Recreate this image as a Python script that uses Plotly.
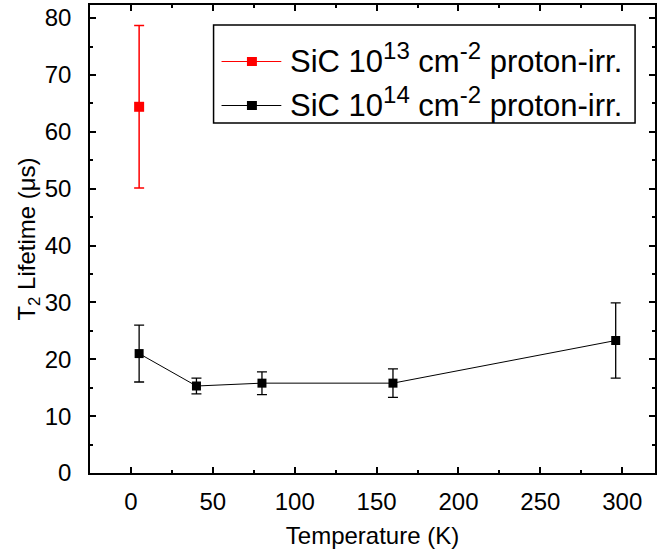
import plotly.graph_objects as go

# Data
temp_13 = [5]
t2_13 = [64.4]
err_13 = [14.3]

temp_14 = [5, 40, 80, 160, 296]
t2_14 = [21.0, 15.3, 15.8, 15.8, 23.3]
err_14 = [5.0, 1.4, 2.0, 2.5, 6.6]

x_ticks = [0, 50, 100, 150, 200, 250, 300]
y_ticks = [0, 10, 20, 30, 40, 50, 60, 70, 80]

series_names = [
    "SiC 10<sup><span style='font-size:24px'>13</span></sup> cm<sup><span style='font-size:24px'>-2</span></sup> proton-irr.",
    "SiC 10<sup><span style='font-size:24px'>14</span></sup> cm<sup><span style='font-size:24px'>-2</span></sup> proton-irr.",
]
series_colors = ["#ff0000", "#000000"]

FONT = "Liberation Sans, Arial, sans-serif"

W, H = 658, 554
ML, MR, MT, MB = 90, 1, 5, 81
PW, PH = W - ML - MR, H - MT - MB


def px(xp):
    return (xp - ML) / PW


def py(yp):
    return (H - MB - yp) / PH


fig = go.Figure()
fig.add_trace(go.Scatter(
    x=temp_13, y=t2_13, mode="lines+markers",
    name=series_names[0], showlegend=False,
    line=dict(color=series_colors[0], width=1),
    marker=dict(symbol="square", size=10, color=series_colors[0]),
    error_y=dict(type="data", array=err_13, visible=True, color=series_colors[0],
                 thickness=1.5, width=5),
))
fig.add_trace(go.Scatter(
    x=temp_14, y=t2_14, mode="lines+markers",
    name=series_names[1], showlegend=False,
    line=dict(color=series_colors[1], width=1),
    marker=dict(symbol="square", size=9, color=series_colors[1]),
    error_y=dict(type="data", array=err_14, visible=True, color=series_colors[1],
                 thickness=1.3, width=5),
))

axis_common = dict(
    showline=True, linecolor="black", linewidth=1.5, mirror="ticks",
    ticks="inside", ticklen=6, tickwidth=1.5, tickcolor="black",
    showgrid=False, zeroline=False,
    tickfont=dict(family=FONT, size=24, color="black"),
)

fig.update_xaxes(
    range=[-25, 320], tickvals=x_ticks, ticklabelstandoff=6,
    minor=dict(ticks="inside", ticklen=3, tickwidth=1.5, dtick=25, tick0=0, tickcolor="black"),
    title=dict(text="Temperature (K)", font=dict(family=FONT, size=24, color="black"), standoff=14),
    **axis_common,
)
fig.update_yaxes(
    range=[0, 82.3], tickvals=y_ticks, ticklabelstandoff=12,
    minor=dict(ticks="inside", ticklen=3, tickwidth=1.5, dtick=5, tick0=0, tickcolor="black"),
    title=dict(text="T<sub>2</sub> Lifetime (μs)", font=dict(family=FONT, size=24, color="black"), standoff=2),
    **axis_common,
)

# Legend (drawn as a framed key)
shapes = [dict(type="rect", xref="paper", yref="paper",
               x0=px(214), x1=px(637), y0=py(123), y1=py(25),
               line=dict(color="black", width=1.5), fillcolor="white", layer="above")]
annotations = []
row_y = [61.5, 105.5]
for name, color, ry in zip(series_names, series_colors, row_y):
    shapes.append(dict(type="line", xref="paper", yref="paper",
                       x0=px(222), x1=px(282), y0=py(ry), y1=py(ry),
                       line=dict(color=color, width=1), layer="above"))
    shapes.append(dict(type="rect", xref="paper", yref="paper",
                       x0=px(247.5), x1=px(257.5), y0=py(ry + 4.5), y1=py(ry - 4.5),
                       line=dict(color=color, width=0), fillcolor=color, layer="above"))
    annotations.append(dict(xref="paper", yref="paper", x=px(289), y=py(ry - 3.5),
                            xanchor="left", yanchor="middle", showarrow=False,
                            text=name, font=dict(family=FONT, size=31, color="black")))

fig.update_layout(
    width=W, height=H,
    margin=dict(l=ML, r=MR, t=MT, b=MB),
    paper_bgcolor="white", plot_bgcolor="white",
    showlegend=False,
    shapes=shapes, annotations=annotations,
)

fig.write_html("out.html")
